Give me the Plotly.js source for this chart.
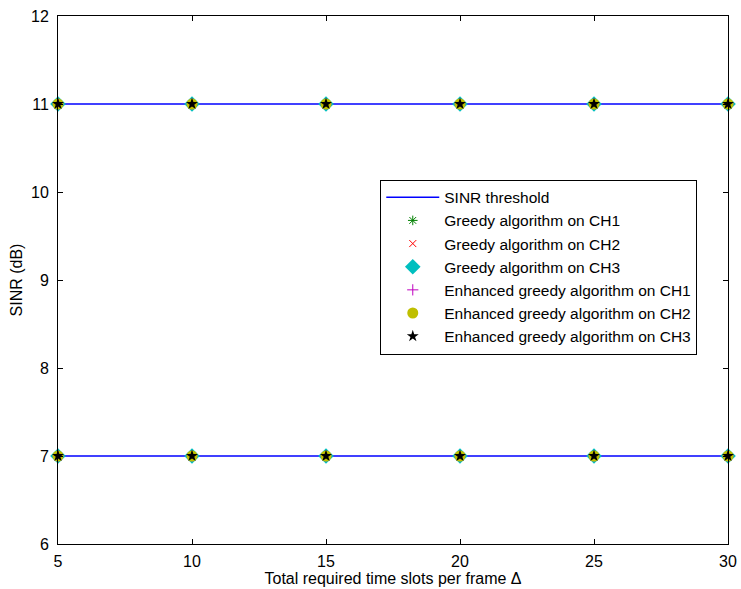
<!DOCTYPE html>
<html>
<head>
<meta charset="utf-8">
<script src="https://cdn.plot.ly/plotly-3.0.1.min.js"></script>
<style>html,body{margin:0;padding:0;background:#fff;}#chart{width:741px;height:589px;}</style>
</head>
<body>
<div id="chart"></div>
<script>
var slots = [5, 10, 15, 20, 25, 30];
var thresholdHigh = [11, 11, 11, 11, 11, 11];
var thresholdLow = [7, 7, 7, 7, 7, 7];
var greedyCH1 = [[11, 11, 11, 11, 11, 11], [7, 7, 7, 7, 7, 7]];
var greedyCH2 = [[11, 11, 11, 11, 11, 11], [7, 7, 7, 7, 7, 7]];
var greedyCH3 = [[11, 11, 11, 11, 11, 11], [7, 7, 7, 7, 7, 7]];
var enhancedCH1 = [[11, 11, 11, 11, 11, 11], [7, 7, 7, 7, 7, 7]];
var enhancedCH2 = [[11, 11, 11, 11, 11, 11], [7, 7, 7, 7, 7, 7]];
var enhancedCH3 = [[11, 11, 11, 11, 11, 11], [7, 7, 7, 7, 7, 7]];
var names = ['SINR threshold', 'Greedy algorithm on CH1', 'Greedy algorithm on CH2', 'Greedy algorithm on CH3',
  'Enhanced greedy algorithm on CH1', 'Enhanced greedy algorithm on CH2', 'Enhanced greedy algorithm on CH3'];

function joinX() { return slots.concat([null]).concat(slots); }
function joinY(a, b) { return a.concat([null]).concat(b); }

var traces = [
  {x: joinX(), y: joinY(thresholdHigh, thresholdLow), name: names[0], mode: 'lines',
   line: {color: '#0000ff', width: 1.5}},
  {x: joinX(), y: joinY(greedyCH1[0], greedyCH1[1]), name: names[1], mode: 'markers',
   marker: {symbol: 'asterisk-open', size: 8, color: '#008000', line: {color: '#008000', width: 1}}},
  {x: joinX(), y: joinY(greedyCH2[0], greedyCH2[1]), name: names[2], mode: 'markers',
   marker: {symbol: 'x-thin-open', size: 7, color: '#ff0000', line: {color: '#ff0000', width: 1}}},
  {x: joinX(), y: joinY(greedyCH3[0], greedyCH3[1]), name: names[3], mode: 'markers',
   marker: {symbol: 'diamond', size: 12, color: '#00bfbf', line: {width: 0}}},
  {x: joinX(), y: joinY(enhancedCH1[0], enhancedCH1[1]), name: names[4], mode: 'markers',
   marker: {symbol: 'cross-thin-open', size: 8, color: '#bf00bf', line: {color: '#bf00bf', width: 1}}},
  {x: joinX(), y: joinY(enhancedCH2[0], enhancedCH2[1]), name: names[5], mode: 'markers',
   marker: {symbol: 'circle', size: 11, color: '#bfbf00', line: {width: 0}}},
  {x: joinX(), y: joinY(enhancedCH3[0], enhancedCH3[1]), name: names[6], mode: 'markers',
   marker: {symbol: 'star', size: 9, color: '#000000', line: {width: 0}}}
];
traces.forEach(function (t) { t.cliponaxis = false; t.connectgaps = false; });

var axisFont = {family: 'Liberation Sans, Arial, sans-serif', size: 16, color: '#000'};
var layout = {
  width: 741, height: 589,
  margin: {l: 58, r: 13, t: 16, b: 45, pad: 0},
  paper_bgcolor: '#fff', plot_bgcolor: '#fff',
  font: axisFont,
  showlegend: true,
  legend: {x: 0.481, y: 0.69, xanchor: 'left', yanchor: 'top', bgcolor: '#fff',
    bordercolor: '#000', borderwidth: 1, font: {family: 'Liberation Sans, Arial, sans-serif', size: 15.5, color: '#000'},
    tracegroupgap: 0, itemwidth: 53},
  xaxis: {range: [5, 30], tickvals: [5, 10, 15, 20, 25, 30], ticks: 'inside', ticklen: 5, tickcolor: '#000',
    showline: true, linecolor: '#000', linewidth: 1, mirror: 'ticks', showgrid: false, zeroline: false,
    ticklabelstandoff: 3,
    tickfont: axisFont, title: {text: 'Total required time slots per frame \u0394', font: axisFont, standoff: 3}},
  yaxis: {range: [6, 12], tickvals: [6, 7, 8, 9, 10, 11, 12], ticks: 'inside', ticklen: 5, tickcolor: '#000',
    showline: true, linecolor: '#000', linewidth: 1, mirror: 'ticks', showgrid: false, zeroline: false,
    ticklabelstandoff: 5,
    tickfont: axisFont, title: {text: 'SINR (dB)', font: axisFont, standoff: 4}}
};
Plotly.newPlot('chart', traces, layout, {displayModeBar: false, staticPlot: true});
</script>
</body>
</html>
